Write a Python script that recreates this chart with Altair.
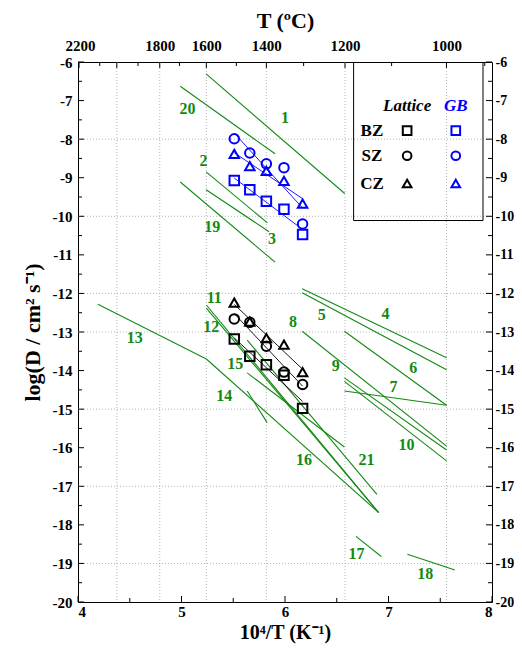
import altair as alt
import pandas as pd

W, H = 414, 540
GREEN = "#138a13"
BLUE = "#0000ff"
FONT = "Liberation Serif"

# ---- measured points (10^4/T, log D) ----
pt_x = [5.51, 5.66, 5.82, 5.99, 6.17]
gb_bz = [-9.07, -9.31, -9.61, -9.82, -10.47]
gb_sz = [-7.99, -8.36, -8.64, -8.74, -10.20]
gb_cz = [-8.38, -8.70, -8.82, -9.08, -9.67]
lat_bz = [-13.18, -13.63, -13.85, -14.12, -14.98]
lat_sz = [-12.66, -12.75, -13.37, -14.04, -14.36]
lat_cz = [-12.24, -12.73, -13.16, -13.33, -14.04]

# ---- literature lines ----
line_id = [1, 2, 3, 4, 5, 6, 7, 8, 9, 10, 11, 12, 13, 14, 15, 16, 17, 18, 19, 20, 21]
line_x1 = [5.238, 5.238, 5.238, 6.166, 6.166, 6.574, 6.574, 6.166, 6.574, 6.574, 5.240,
           5.240, 4.192, 5.635, 5.635, 5.635, 6.686, 7.183, 4.988, 4.988, 5.240]
line_y1 = [-6.31, -8.85, -9.31, -11.88, -11.98, -12.98, -14.53, -12.98, -14.19, -14.28, -12.30,
           -12.38, -12.28, -14.53, -13.21, -14.06, -18.30, -18.76, -9.11, -6.63, -13.70]
line_x2 = [6.577, 5.830, 5.846, 7.561, 7.561, 7.561, 7.561, 7.561, 7.561, 7.561, 6.904,
           6.904, 5.240, 5.827, 6.888, 6.574, 6.930, 7.641, 5.904, 5.904, 6.904]
line_y2 = [-9.41, -10.17, -10.40, -13.67, -13.98, -14.90, -14.90, -15.96, -16.06, -16.34, -17.68,
           -17.68, -13.70, -15.35, -17.21, -15.98, -18.82, -19.17, -11.19, -8.38, -17.68]

# ---- line labels ----
lab_text = ["1", "2", "3", "4", "5", "6", "7", "8", "9", "10", "11", "12", "13", "14", "15",
            "16", "17", "18", "19", "20", "21"]
lab_x = [6.00, 5.212, 5.875, 6.971, 6.356, 7.24, 7.048, 6.077, 6.49, 7.173, 5.317, 5.288,
         4.548, 5.413, 5.519, 6.183, 6.692, 7.356, 5.298, 5.058, 6.788]
lab_y = [-7.45, -8.56, -10.60, -12.54, -12.56, -13.93, -14.42, -12.74, -13.88, -15.92, -12.12,
         -12.87, -13.16, -14.66, -13.83, -16.31, -18.76, -19.28, -10.29, -7.21, -16.31]

# ---- axes ----
x_major = [4, 5, 6, 7, 8]
x_minor = [4.5, 5.5, 6.5, 7.5]
y_major = list(range(-20, -5))
y_minor = [v + 0.5 for v in range(-20, -6)]
top_temp = ["2200", "1800", "1600", "1400", "1200", "1000"]
top_pos = [4.02, 4.79, 5.24, 5.82, 6.58, 7.56]
top_major_ticks = [4.01, 4.375, 4.79, 5.24, 5.82, 6.58, 7.56]
top_minor_ticks = [4.21, 4.58, 4.98, 5.53, 6.18, 7.03, 7.93]
grid_x = [4.375, 4.79, 5.24, 5.82, 6.58, 7.56]
grid_y = [-8, -10, -12, -13, -15, -17, -19]

# ---- legend ----
leg_zone = ["BZ", "SZ", "CZ"]
leg_y = [-7.78, -8.43, -9.15]
leg_x_row, leg_x_lat, leg_x_gb, leg_y_head = 6.84, 7.18, 7.65, -7.14
box_l, box_r, box_b = 6.663, 7.913, -10.11

xs = alt.Scale(domain=[4, 8], nice=False, zero=False)
ys = alt.Scale(domain=[-20, -6], nice=False, zero=False)

rows = []
for typ, d in [("Lattice", {"BZ": lat_bz, "SZ": lat_sz, "CZ": lat_cz}),
               ("GB", {"BZ": gb_bz, "SZ": gb_sz, "CZ": gb_cz})]:
    for z, vals in d.items():
        for xv, yv in zip(pt_x, vals):
            rows.append({"x": xv, "y": yv, "zone": z, "type": typ})
pts = pd.DataFrame(rows)

shape_sc = alt.Scale(domain=["BZ", "SZ", "CZ"], range=["square", "circle", "triangle-up"])
color_sc = alt.Scale(domain=["Lattice", "GB"], range=["black", BLUE])

X = lambda f="x": alt.X(f"{f}:Q", scale=xs, axis=None)
Y = lambda f="y": alt.Y(f"{f}:Q", scale=ys, axis=None)

gx = alt.Chart(pd.DataFrame({"x": grid_x})).mark_rule(
    color="#b5b5b5", strokeDash=[1, 2], strokeWidth=1).encode(
    x=X(), y=alt.value(0), y2=alt.value(H))
gy = alt.Chart(pd.DataFrame({"y": grid_y})).mark_rule(
    color="#b5b5b5", strokeDash=[1, 2], strokeWidth=1).encode(
    y=Y(), x=alt.value(0), x2=alt.value(W))

lines = alt.Chart(pd.DataFrame({"id": line_id, "x": line_x1, "y": line_y1,
                                "x2": line_x2, "y2": line_y2})).mark_rule(
    color=GREEN, strokeWidth=1.1).encode(x=X(), y=Y(), x2="x2:Q", y2="y2:Q")

labels = alt.Chart(pd.DataFrame({"t": lab_text, "x": lab_x, "y": lab_y})).mark_text(
    font=FONT, fontWeight="bold", fontSize=16, color=GREEN).encode(x=X(), y=Y(), text="t:N")

fits = alt.Chart(pts).transform_regression(
    "x", "y", groupby=["type", "zone"]).mark_line(strokeWidth=0.9).encode(
    x=X(), y=Y(), detail="zone:N",
    color=alt.Color("type:N", scale=color_sc, legend=None))

points = alt.Chart(pts).mark_point(filled=False, strokeWidth=2, size=90, opacity=1).encode(
    x=X(), y=Y(),
    shape=alt.Shape("zone:N", scale=shape_sc, legend=None),
    color=alt.Color("type:N", scale=color_sc, legend=None))

# legend box
box_v = alt.Chart(pd.DataFrame({"x": [box_l, box_r]})).mark_rule(
    color="black", strokeWidth=1).encode(x=X(), y=alt.value(0), y2=alt.value(
        H * (-6 - box_b) / 14.0))
box_h = alt.Chart(pd.DataFrame({"x": [box_l], "x2": [box_r], "y": [box_b]})).mark_rule(
    color="black", strokeWidth=1).encode(x=X(), x2="x2:Q", y=Y())
leg_rows = []
for z, yv in zip(leg_zone, leg_y):
    leg_rows.append({"x": leg_x_lat, "y": yv, "zone": z, "type": "Lattice"})
    leg_rows.append({"x": leg_x_gb, "y": yv, "zone": z, "type": "GB"})
leg_pts = alt.Chart(pd.DataFrame(leg_rows)).mark_point(
    filled=False, strokeWidth=2, size=75, opacity=1).encode(
    x=X(), y=Y(),
    shape=alt.Shape("zone:N", scale=shape_sc, legend=None),
    color=alt.Color("type:N", scale=color_sc, legend=None))
leg_rowlab = alt.Chart(pd.DataFrame({"t": leg_zone, "x": [leg_x_row] * 3, "y": leg_y})).mark_text(
    font=FONT, fontWeight="bold", fontSize=17, color="black").encode(x=X(), y=Y(), text="t:N")
leg_head = alt.Chart(pd.DataFrame({"t": ["Lattice", "GB"], "x": [leg_x_lat, leg_x_gb],
                                   "y": [leg_y_head] * 2, "c": ["Lattice", "GB"]})).mark_text(
    font=FONT, fontWeight="bold", fontStyle="italic", fontSize=17).encode(
    x=X(), y=Y(), text="t:N", color=alt.Color("c:N", scale=color_sc, legend=None))

# tick marks (inward)
def xticks(vals, length, top):
    if top:
        return alt.Chart(pd.DataFrame({"x": vals})).mark_rule(color="black").encode(
            x=X(), y=alt.value(0), y2=alt.value(length))
    return alt.Chart(pd.DataFrame({"x": vals})).mark_rule(color="black").encode(
        x=X(), y=alt.value(H), y2=alt.value(H - length))

def yticks(vals, length, right):
    if right:
        return alt.Chart(pd.DataFrame({"y": vals})).mark_rule(color="black").encode(
            y=Y(), x=alt.value(W), x2=alt.value(W - length))
    return alt.Chart(pd.DataFrame({"y": vals})).mark_rule(color="black").encode(
        y=Y(), x=alt.value(0), x2=alt.value(length))

ticks = [xticks(x_major, 6, False), xticks(x_minor, 4, False),
         xticks(top_major_ticks, 6, True), xticks(top_minor_ticks, 4, True),
         yticks(y_major, 6, False), yticks(y_minor, 4, False),
         yticks(y_major, 6, True), yticks(y_minor, 4, True)]

dummy = pd.DataFrame({"x": [4.0], "y": [-6.0]})
ax_bottom = alt.Chart(dummy).mark_point(opacity=0).encode(
    x=alt.X("x:Q", scale=xs, axis=alt.Axis(orient="bottom", values=x_major, ticks=False,
            grid=False, labelPadding=2, title="10\u2074/T (K\u207b\u00b9)", titlePadding=3,
            titleFontSize=20, labelFontSize=15, labelExpr="'' + datum.value")))
top_expr = " : ".join(
    [f"datum.value < {p + 0.05} ? '{t}'" for p, t in zip(top_pos[:-1], top_temp[:-1])]
) + f" : '{top_temp[-1]}'"
ax_top = alt.Chart(dummy).mark_point(opacity=0).encode(
    x=alt.X("x:Q", scale=xs, axis=alt.Axis(orient="top", values=top_pos, ticks=False,
            grid=False, labelPadding=9, title="T (\u00baC)", titlePadding=6,
            labelExpr=top_expr)))
ax_left = alt.Chart(dummy).mark_point(opacity=0).encode(
    y=alt.Y("y:Q", scale=ys, axis=alt.Axis(orient="left", values=y_major, ticks=False,
            grid=False, labelPadding=6, title="log(D / cm\u00b2 s\u207b\u00b9)", titlePadding=8,
            labelExpr="'' + datum.value")))
ax_right = alt.Chart(dummy).mark_point(opacity=0).encode(
    y=alt.Y("y:Q", scale=ys, axis=alt.Axis(orient="right", values=y_major, ticks=False,
            grid=False, labelPadding=3, labelFontSize=14, title=None,
            labelExpr="'' + datum.value")))

chart = alt.layer(
    gx, gy, lines, labels, fits, points, box_v, box_h, leg_pts, leg_rowlab, leg_head,
    *ticks, ax_bottom, ax_top, ax_left, ax_right
).resolve_axis(x="independent", y="independent").properties(
    width=W, height=H, autosize="none",
    padding={"left": 70, "top": 54, "right": 22, "bottom": 46},
).configure_view(stroke=None).configure_axis(
    labelFont=FONT, labelFontWeight="bold", labelFontSize=15, labelColor="black",
    titleFont=FONT, titleFontWeight="bold", titleFontSize=22, titleColor="black",
    domainColor="black", domainWidth=1,
)

chart.save("out.html", embed_options={"renderer": "svg", "actions": False})
